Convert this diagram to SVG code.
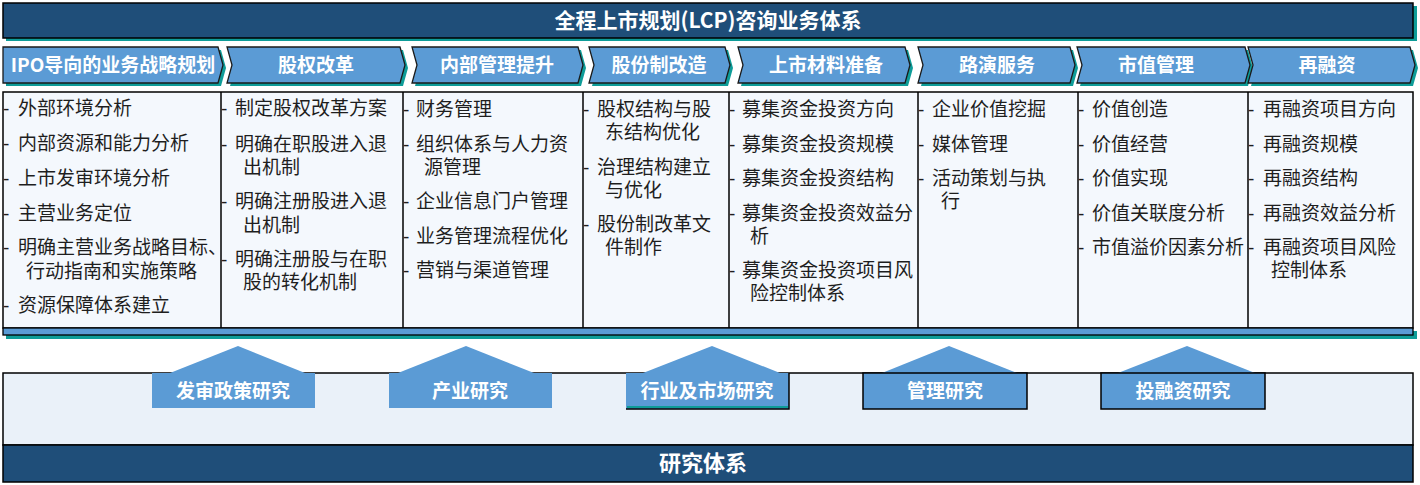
<svg xmlns="http://www.w3.org/2000/svg" width="1420" height="485" viewBox="0 0 1420 485">
<defs>
<style>
.sh{fill:#0E9C98}
.dark{fill:#1F4E79;stroke:#000;stroke-width:1.5}
.chev{fill:#5B9BD5;stroke:#1a1a1a;stroke-width:1.3}
.ct{font-family:"Noto Sans CJK SC","Noto Sans",sans-serif;font-weight:bold;font-size:19px;fill:#fff;text-anchor:middle}
.tt{font-family:"Noto Sans CJK SC","Noto Sans",sans-serif;font-weight:bold;font-size:21px;fill:#fff;text-anchor:middle}
.bt{font-family:"Noto Sans CJK SC","Noto Sans",sans-serif;font-size:19px;fill:#1E1E1E}
.dash{font-family:"Liberation Sans",sans-serif;font-size:19px;fill:#1E1E1E}
.rb{fill:#5B9BD5}
.col{stroke:#000;stroke-width:1.5}
</style>
</defs>
<rect x="0" y="0" width="1420" height="485" fill="#fff"/>

<g id="title">
<rect class="sh" x="6" y="6" width="1411" height="35"/>
<rect class="dark" x="3" y="3" width="1410" height="35"/>
<text class="tt" x="708" y="28">全程上市规划(LCP)咨询业务体系</text>
</g>

<g id="phase-1">
<path class="sh" d="M6,50 H221 L226,68 L221,86 H6 Z"/>
<path class="chev" d="M3,47 H218 L223,65 L218,83 H3 Z"/>
<text class="ct" x="113" y="72">IPO导向的业务战略规划</text>
</g>
<g id="phase-2">
<path class="sh" d="M230,50 H403 L408,68 L403,86 H230 L235,68 Z"/>
<path class="chev" d="M227,47 H400 L405,65 L400,83 H227 L232,65 Z"/>
<text class="ct" x="316" y="72">股权改革</text>
</g>
<g id="phase-3">
<path class="sh" d="M415,50 H581 L586,68 L581,86 H415 L420,68 Z"/>
<path class="chev" d="M412,47 H578 L583,65 L578,83 H412 L417,65 Z"/>
<text class="ct" x="497" y="72">内部管理提升</text>
</g>
<g id="phase-4">
<path class="sh" d="M592,50 H728 L733,68 L728,86 H592 L597,68 Z"/>
<path class="chev" d="M589,47 H725 L730,65 L725,83 H589 L594,65 Z"/>
<text class="ct" x="659" y="72">股份制改造</text>
</g>
<g id="phase-5">
<path class="sh" d="M741,50 H908 L913,68 L908,86 H741 L746,68 Z"/>
<path class="chev" d="M738,47 H905 L910,65 L905,83 H738 L743,65 Z"/>
<text class="ct" x="826" y="72">上市材料准备</text>
</g>
<g id="phase-6">
<path class="sh" d="M921,50 H1073 L1078,68 L1073,86 H921 L926,68 Z"/>
<path class="chev" d="M918,47 H1070 L1075,65 L1070,83 H918 L923,65 Z"/>
<text class="ct" x="997" y="72">路演服务</text>
</g>
<g id="phase-7">
<path class="sh" d="M1080,50 H1248 L1253,68 L1248,86 H1080 L1085,68 Z"/>
<path class="chev" d="M1077,47 H1245 L1250,65 L1245,83 H1077 L1082,65 Z"/>
<text class="ct" x="1156" y="72">市值管理</text>
</g>
<g id="phase-8">
<path class="sh" d="M1251,50 H1413 L1418,68 L1413,86 H1251 L1256,68 Z"/>
<path class="chev" d="M1248,47 H1410 L1415,65 L1410,83 H1248 L1253,65 Z"/>
<text class="ct" x="1327" y="72">再融资</text>
</g>

<g id="table">
<rect class="sh" x="6" y="331" width="1411" height="8"/>
<rect x="3" y="92" width="1410" height="236" fill="#F4F8FD" stroke="#000" stroke-width="1.5"/>
<rect x="3" y="328" width="1410" height="7" fill="#5B9BD5" stroke="#000" stroke-width="1.3"/>
<line class="col" x1="221" y1="92" x2="221" y2="328"/>
<line class="col" x1="403" y1="92" x2="403" y2="328"/>
<line class="col" x1="583" y1="92" x2="583" y2="328"/>
<line class="col" x1="729" y1="92" x2="729" y2="328"/>
<line class="col" x1="918" y1="92" x2="918" y2="328"/>
<line class="col" x1="1078" y1="92" x2="1078" y2="328"/>
<line class="col" x1="1248" y1="92" x2="1248" y2="328"/>
</g>

<g id="col-1">
<text class="dash" x="3" y="115">-</text><text class="bt" x="18" y="115">外部环境分析</text>
<text class="dash" x="3" y="150">-</text><text class="bt" x="18" y="150">内部资源和能力分析</text>
<text class="dash" x="3" y="185">-</text><text class="bt" x="18" y="185">上市发审环境分析</text>
<text class="dash" x="3" y="220">-</text><text class="bt" x="18" y="220">主营业务定位</text>
<text class="dash" x="3" y="254">-</text><text class="bt" x="18" y="254">明确主营业务战略目标、</text>
<text class="bt" x="26" y="278">行动指南和实施策略</text>
<text class="dash" x="3" y="312">-</text><text class="bt" x="18" y="312">资源保障体系建立</text>
</g>
<g id="col-2">
<text class="dash" x="221" y="115">-</text><text class="bt" x="235" y="115">制定股权改革方案</text>
<text class="dash" x="221" y="151">-</text><text class="bt" x="235" y="151">明确在职股进入退</text>
<text class="bt" x="243" y="174">出机制</text>
<text class="dash" x="221" y="208">-</text><text class="bt" x="235" y="208">明确注册股进入退</text>
<text class="bt" x="243" y="232">出机制</text>
<text class="dash" x="221" y="266">-</text><text class="bt" x="235" y="266">明确注册股与在职</text>
<text class="bt" x="243" y="289">股的转化机制</text>
</g>
<g id="col-3">
<text class="dash" x="403" y="116">-</text><text class="bt" x="416" y="116">财务管理</text>
<text class="dash" x="403" y="151">-</text><text class="bt" x="416" y="151">组织体系与人力资</text>
<text class="bt" x="424" y="174">源管理</text>
<text class="dash" x="403" y="208">-</text><text class="bt" x="416" y="208">企业信息门户管理</text>
<text class="dash" x="403" y="243">-</text><text class="bt" x="416" y="243">业务管理流程优化</text>
<text class="dash" x="403" y="277">-</text><text class="bt" x="416" y="277">营销与渠道管理</text>
</g>
<g id="col-4">
<text class="dash" x="583" y="116">-</text><text class="bt" x="597" y="116">股权结构与股</text>
<text class="bt" x="605" y="139">东结构优化</text>
<text class="dash" x="583" y="174">-</text><text class="bt" x="597" y="174">治理结构建立</text>
<text class="bt" x="605" y="197">与优化</text>
<text class="dash" x="583" y="231">-</text><text class="bt" x="597" y="231">股份制改革文</text>
<text class="bt" x="605" y="254">件制作</text>
</g>
<g id="col-5">
<text class="dash" x="729" y="116">-</text><text class="bt" x="742" y="116">募集资金投资方向</text>
<text class="dash" x="729" y="151">-</text><text class="bt" x="742" y="151">募集资金投资规模</text>
<text class="dash" x="729" y="185">-</text><text class="bt" x="742" y="185">募集资金投资结构</text>
<text class="dash" x="729" y="220">-</text><text class="bt" x="742" y="220">募集资金投资效益分</text>
<text class="bt" x="750" y="243">析</text>
<text class="dash" x="729" y="277">-</text><text class="bt" x="742" y="277">募集资金投资项目风</text>
<text class="bt" x="750" y="300">险控制体系</text>
</g>
<g id="col-6">
<text class="dash" x="918" y="116">-</text><text class="bt" x="932" y="116">企业价值挖掘</text>
<text class="dash" x="918" y="151">-</text><text class="bt" x="932" y="151">媒体管理</text>
<text class="dash" x="918" y="185">-</text><text class="bt" x="932" y="185">活动策划与执</text>
<text class="bt" x="941" y="208">行</text>
</g>
<g id="col-7">
<text class="dash" x="1078" y="116">-</text><text class="bt" x="1092" y="116">价值创造</text>
<text class="dash" x="1078" y="151">-</text><text class="bt" x="1092" y="151">价值经营</text>
<text class="dash" x="1078" y="185">-</text><text class="bt" x="1092" y="185">价值实现</text>
<text class="dash" x="1078" y="220">-</text><text class="bt" x="1092" y="220">价值关联度分析</text>
<text class="dash" x="1078" y="254">-</text><text class="bt" x="1092" y="254">市值溢价因素分析</text>
</g>
<g id="col-8">
<text class="dash" x="1248" y="116">-</text><text class="bt" x="1263" y="116">再融资项目方向</text>
<text class="dash" x="1248" y="151">-</text><text class="bt" x="1263" y="151">再融资规模</text>
<text class="dash" x="1248" y="185">-</text><text class="bt" x="1263" y="185">再融资结构</text>
<text class="dash" x="1248" y="220">-</text><text class="bt" x="1263" y="220">再融资效益分析</text>
<text class="dash" x="1248" y="254">-</text><text class="bt" x="1263" y="254">再融资项目风险</text>
<text class="bt" x="1271" y="277">控制体系</text>
</g>

<g id="research-system">
<rect x="3" y="373" width="1410" height="72" fill="#EAF1F9" stroke="#000" stroke-width="1.5"/>
<rect class="dark" x="3" y="445" width="1410" height="37"/>
<text class="ct" x="703" y="471" style="font-size:22px">研究体系</text>
</g>

<g id="research-1">
<polygon class="rb" points="170,373 238,346 305,373"/>
<rect class="rb" x="152" y="373" width="163" height="35"/>
<text class="ct" x="233" y="398">发审政策研究</text>
</g>
<g id="research-2">
<polygon class="rb" points="398,373 466,346 534,373"/>
<rect class="rb" x="389" y="373" width="163" height="35"/>
<text class="ct" x="470" y="398">产业研究</text>
</g>
<g id="research-3">
<polygon class="rb" points="643,373 712,346 780,373"/>
<rect class="rb" x="626" y="373" width="163" height="36"/>
<line x1="627" y1="407" x2="788" y2="407" stroke="#0E9C98" stroke-width="2"/>
<path d="M626,409 H789 V373" fill="none" stroke="#000" stroke-width="1.5"/>
<text class="ct" x="707" y="398">行业及市场研究</text>
</g>
<g id="research-4">
<polygon class="rb" points="882,373 949,346 1017,373"/>
<rect class="rb" x="863" y="373" width="164" height="36" stroke="#000" stroke-width="1.5"/>
<text class="ct" x="945" y="398">管理研究</text>
</g>
<g id="research-5">
<polygon class="rb" points="1118,373 1187,346 1255,373"/>
<rect class="rb" x="1101" y="373" width="164" height="36" stroke="#000" stroke-width="1.5"/>
<text class="ct" x="1183" y="398">投融资研究</text>
</g>
</svg>
